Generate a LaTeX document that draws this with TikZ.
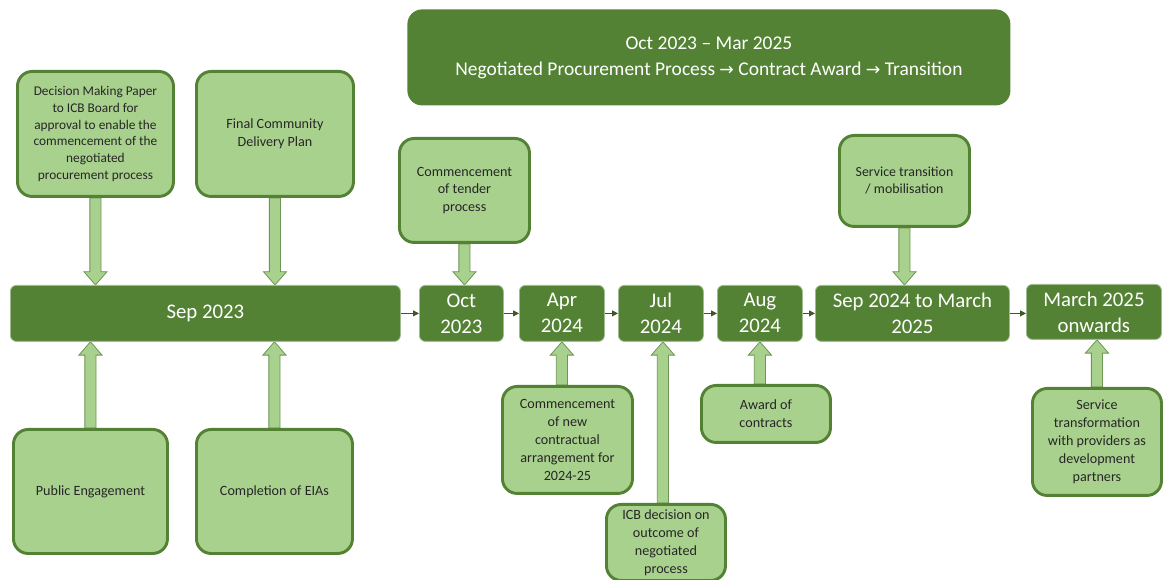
\documentclass[tikz,border=0pt]{standalone}
\usepackage{fontspec}
\setmainfont{Carlito}
\newfontfamily\symf{DejaVu Sans}
\usetikzlibrary{arrows.meta,calc,backgrounds}
\definecolor{dgreen}{HTML}{548235}
\definecolor{lgreen}{HTML}{A9D18E}
\definecolor{txt}{HTML}{262626}
\tikzset{
  dbox/.style={fill=dgreen, draw=dgreen!55!white, line width=0.6pt, rounded corners=4.5pt,
    text=white, font=\fontsize{15.6}{19.5}\selectfont, align=center, inner sep=0pt, anchor=north west},
  banner/.style={dbox, rounded corners=11pt, draw=none, font=\fontsize{14.6}{19.5}\selectfont},
  lbox/.style={fill=lgreen, draw=dgreen, line width=2.2pt, rounded corners=11pt,
    text=txt, font=\fontsize{10.6}{13.4}\selectfont, align=center, inner sep=0pt, anchor=north west},
  tight/.style={font=\fontsize{10}{12.5}\selectfont},
  flow/.style={-{Triangle[length=4.5pt,width=4.5pt]}, draw=dgreen!70!black, line width=0.6pt},
  barrow/.style={fill=lgreen, draw=dgreen!85, line width=0.6pt, line join=miter},
}
\newcommand\blockarrow[3]{%
  \path[barrow] let \p1=(#1), \p2=(#2) in
  (\x1-4.2pt,\y1) -- (\x1-4.2pt,\y2#3) -- (\x1-8.7pt,\y2#3) -- (\x1,\y2)
  -- (\x1+8.7pt,\y2#3) -- (\x1+4.2pt,\y2#3) -- (\x1+4.2pt,\y1) -- cycle;}
\begin{document}
\begin{tikzpicture}[x=0.75pt,y=-0.75pt]
\useasboundingbox (0,0) rectangle (1167,580);
% banner
\node[banner, minimum width={603*0.75pt}, minimum height={96*0.75pt}] (ban) at (407,9)
  {Oct 2023 -- Mar 2025\\Negotiated Procurement Process {\symf\fontsize{13}{13}\selectfont →} Contract Award {\symf\fontsize{13}{13}\selectfont →} Transition};
% timeline
\node[dbox, minimum width={390*0.75pt}, minimum height={56*0.75pt}] (sep) at (10,285) {Sep 2023};
\node[dbox, minimum width={84*0.75pt}, minimum height={56*0.75pt}] (oct) at (419,285) {Oct\\2023};
\node[dbox, minimum width={85*0.75pt}, minimum height={56*0.75pt}] (apr) at (519,285) {Apr\\2024};
\node[dbox, minimum width={85*0.75pt}, minimum height={56*0.75pt}] (jul) at (618,285) {Jul\\2024};
\node[dbox, minimum width={85*0.75pt}, minimum height={56*0.75pt}] (aug) at (717,285) {Aug\\2024};
\node[dbox, minimum width={194*0.75pt}, minimum height={56*0.75pt}] (sep24) at (815,285) {Sep 2024 to March\\2025};
\node[dbox, minimum width={135*0.75pt}, minimum height={55*0.75pt}] (mar25) at (1026,284) {March 2025\\onwards};
\draw[flow] (sep) -- (oct);
\draw[flow] (oct) -- (apr);
\draw[flow] (apr) -- (jul);
\draw[flow] (jul) -- (aug);
\draw[flow] (aug) -- (sep24);
\draw[flow] (sep24.east) -- (mar25.west |- sep24.east);
% light boxes
\node[lbox, tight, minimum width={156*0.75pt}, minimum height={125*0.75pt}] (dec) at (16,70)
  {Decision Making Paper\\to ICB Board for\\approval to enable the\\commencement of the\\negotiated\\procurement process};
\node[lbox, minimum width={157*0.75pt}, minimum height={125*0.75pt}] (fcd) at (195,70)
  {Final Community\\Delivery Plan};
\node[lbox, minimum width={130*0.75pt}, minimum height={104*0.75pt}] (ten) at (398,137)
  {Commencement\\of tender\\process};
\node[lbox, font=\fontsize{10.4}{12.8}\selectfont, minimum width={130*0.75pt}, minimum height={91*0.75pt}] (stm) at (838,134)
  {Service transition\\/ mobilisation};
\node[lbox, minimum width={154*0.75pt}, minimum height={124*0.75pt}] (pub) at (12,428) {Public Engagement};
\node[lbox, minimum width={156*0.75pt}, minimum height={124*0.75pt}] (eia) at (195,428) {Completion of EIAs};
\node[lbox, minimum width={130*0.75pt}, minimum height={107*0.75pt}] (ncn) at (501,385)
  {Commencement\\of new\\contractual\\arrangement for\\2024-25};
\node[lbox, minimum width={119*0.75pt}, minimum height={76*0.75pt}] (icb) at (605,503)
  {ICB decision on\\outcome of\\negotiated\\process};
\node[lbox, minimum width={129*0.75pt}, minimum height={57*0.75pt}] (awd) at (700,384)
  {Award of\\contracts};
\node[lbox, minimum width={129*0.75pt}, minimum height={107*0.75pt}] (stf) at (1031,387)
  {Service\\transformation\\with providers as\\development\\partners};
% block arrows
\begin{scope}[on background layer]
\blockarrow{dec.south}{dec.south |- sep.north}{+10pt}
\blockarrow{fcd.south}{fcd.south |- sep.north}{+10pt}
\blockarrow{ten.south}{ten.south |- oct.north}{+10pt}
\blockarrow{stm.south}{stm.south |- sep24.north}{+10pt}
\blockarrow{pub.north}{pub.north |- sep.south}{-10pt}
\blockarrow{eia.north}{eia.north |- sep.south}{-10pt}
\blockarrow{apr.south |- ncn.north}{apr.south}{-10pt}
\blockarrow{$(jul.south |- icb.north)+(2,0)$}{$(jul.south)+(2,0)$}{-10pt}
\blockarrow{aug.south |- awd.north}{aug.south}{-10pt}
\blockarrow{stf.north}{stf.north |- mar25.south}{-10pt}
\end{scope}
\end{tikzpicture}
\end{document}
